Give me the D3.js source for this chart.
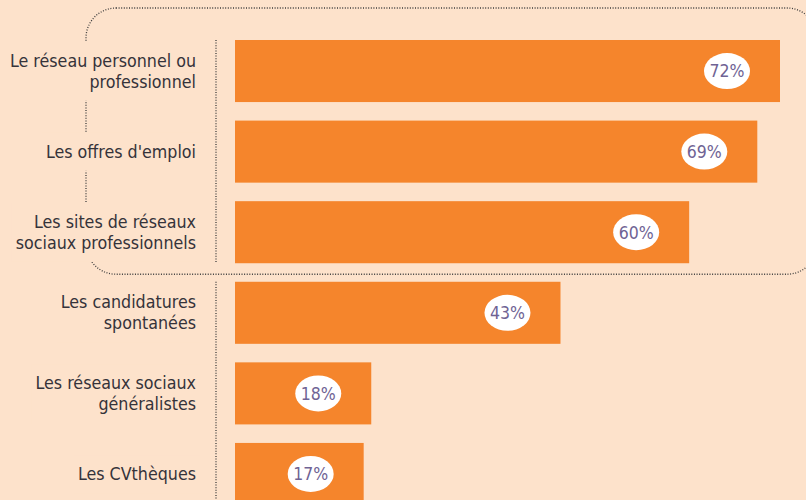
<!DOCTYPE html>
<html>
<head>
<meta charset="utf-8">
<script src="https://cdn.jsdelivr.net/npm/d3@7"></script>
<style>
  body { margin: 0; background: #fde2cb; }
  svg { display: block; }
  .label { font-family: "Liberation Sans Narrow", "DejaVu Sans Condensed", sans-serif; font-size: 17.7px; fill: #35333a; }
  .pct { font-family: "Liberation Sans Narrow", "DejaVu Sans Condensed", sans-serif; font-size: 17.5px; fill: #6f6394; }
  .dots { fill: none; stroke: #3c3c3c; stroke-width: 1.3; stroke-dasharray: 1 1.6; }
</style>
</head>
<body>
<svg width="806" height="500"></svg>
<script>
  // chart data
  const categories = [
    ["Le réseau personnel ou", "professionnel"],
    ["Les offres d'emploi"],
    ["Les sites de réseaux", "sociaux professionnels"],
    ["Les candidatures", "spontanées"],
    ["Les réseaux sociaux", "généralistes"],
    ["Les CVthèques"]
  ];
  const values = [72, 69, 60, 43, 18, 17];
  const highlighted = 3; // first three bars sit inside the dotted frame

  const svg = d3.select("svg");
  const width = 806, height = 500;
  const bg = "#fde2cb";

  svg.append("rect").attr("width", width).attr("height", height).attr("fill", bg);

  const x = d3.scaleLinear().domain([0, 72]).range([235, 780]);
  const y = d3.scaleBand()
    .domain(d3.range(values.length))
    .range([40, 505])
    .paddingInner(0.23)
    .paddingOuter(0);

  // dotted rounded frame around the top group
  const frameBottom = y(highlighted - 1) + y.bandwidth() + 11;
  svg.append("rect")
    .attr("class", "dots")
    .attr("x", 86).attr("y", 8)
    .attr("width", 731).attr("height", frameBottom - 8)
    .attr("rx", 30).attr("ry", 30);

  // dotted axis line, broken where the frame crosses it
  const axisX = 216;
  svg.append("line").attr("class", "dots")
    .attr("x1", axisX).attr("x2", axisX)
    .attr("y1", y(0)).attr("y2", y(highlighted - 1) + y.bandwidth());
  svg.append("line").attr("class", "dots")
    .attr("x1", axisX).attr("x2", axisX)
    .attr("y1", y(highlighted)).attr("y2", height);

  // labels, with a background patch hiding the frame behind them
  const labels = svg.append("g");
  const lineH = 21;
  categories.forEach((lines, i) => {
    const cy = y(i) + y.bandwidth() / 2;
    const g = labels.append("g");
    const patch = g.append("rect").attr("fill", bg);
    const t = g.append("text")
      .attr("class", "label")
      .attr("text-anchor", "end")
      .attr("x", 196);
    lines.forEach((l, j) => {
      t.append("tspan")
        .attr("x", 196)
        .attr("y", cy + (j - (lines.length - 1) / 2) * lineH)
        .attr("dy", "0.35em")
        .text(l);
    });
    const b = t.node().getBBox();
    patch.attr("x", b.x - 4).attr("y", b.y - 9)
      .attr("width", b.width + 8).attr("height", b.height + 18);
  });

  // bars
  svg.append("g").selectAll("rect")
    .data(values)
    .join("rect")
    .attr("x", x(0))
    .attr("y", (d, i) => y(i))
    .attr("width", d => x(d) - x(0))
    .attr("height", y.bandwidth())
    .attr("fill", "#f5852c");

  // value bubbles
  const bubbles = svg.append("g").selectAll("g")
    .data(values)
    .join("g")
    .attr("transform", (d, i) => `translate(${x(d) - 53},${y(i) + y.bandwidth() / 2})`);
  bubbles.append("ellipse")
    .attr("rx", 23).attr("ry", 18)
    .attr("fill", "#fff");
  bubbles.append("text")
    .attr("class", "pct")
    .attr("text-anchor", "middle")
    .attr("dy", "0.36em")
    .text(d => d + "%");
</script>
</body>
</html>
